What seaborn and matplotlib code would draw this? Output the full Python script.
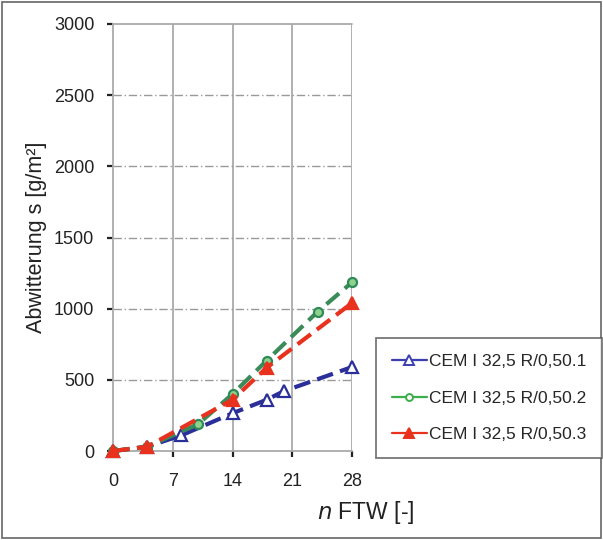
import matplotlib
matplotlib.use('Agg')
import matplotlib.pyplot as plt
from matplotlib.lines import Line2D
from matplotlib.patches import Rectangle
import seaborn as sns
import pandas as pd

# values
x_1 = [0, 4, 8, 14, 18, 20, 28]
s_1 = [0, 30, 110, 265, 360, 420, 590]
x_2 = [0, 4, 10, 14, 18, 24, 28]
s_2 = [0, 30, 190, 400, 635, 980, 1185]
x_3 = [0, 4, 14, 18, 28]
s_3 = [0, 30, 360, 585, 1040]
labels = ['CEM I 32,5 R/0,50.1', 'CEM I 32,5 R/0,50.2', 'CEM I 32,5 R/0,50.3']
x_ticks = [0, 7, 14, 21, 28]
y_ticks = [0, 500, 1000, 1500, 2000, 2500, 3000]

sns.set_style('white')
plt.rcParams['font.family'] = ['Liberation Sans', 'DejaVu Sans']

fig = plt.figure(figsize=(6.03, 5.4), dpi=100)
ax = fig.add_axes([113 / 603, 1 - 451 / 540, 239 / 603, 427 / 540])

colors = ['#2b2f9a', '#2e8b57', '#e8321e']
line_colors = ['#2b2f9a', '#3a8a5a', '#e8321e']
markers = ['^', 'o', '^']
sizes = [8, 6.5, 8]
faces = ['white', '#8fd18f', '#e8321e']
legend_colors = ['#3b3fb0', '#3cae4a', '#e8321e']

series = [(x_1, s_1), (x_2, s_2), (x_3, s_3)]
for i, (xs, ys) in enumerate(series):
    df = pd.DataFrame({'n': xs, 's': ys})
    sns.lineplot(data=df, x='n', y='s', ax=ax, color=line_colors[i],
                 linewidth=3.0, linestyle=(0, (4, 1.8)),
                 marker=markers[i], markersize=sizes[i], markerfacecolor=faces[i],
                 markeredgecolor=colors[i], markeredgewidth=1.6,
                 zorder=3 + i, clip_on=False)

ax.set_xlim(0, 28)
ax.set_ylim(0, 3000)
ax.set_xticks(x_ticks)
ax.set_yticks(y_ticks)
ax.tick_params(axis='both', labelsize=13, colors='#222222', length=4.5,
               direction='out', width=1.6, bottom=True, left=True)
ax.tick_params(axis='y', pad=9)
ax.tick_params(axis='x', pad=11)
for v in x_ticks[1:]:
    ax.axvline(v, color='#aaaaaa', linewidth=1.3, zorder=1)
for v in y_ticks[1:-1]:
    ax.axhline(v, color='#999999', linewidth=1.0, linestyle=(0, (6, 2, 1, 2)), zorder=1)
ax.axhline(3000, color='#aaaaaa', linewidth=1.3, zorder=1, clip_on=False)

for side in ['top', 'right']:
    ax.spines[side].set_visible(False)
for side in ['left', 'bottom']:
    ax.spines[side].set_color('#aaaaaa')
    ax.spines[side].set_linewidth(1.3)

ax.set_xlabel('')
ax.set_ylabel('Abwitterung s [g/m²]', fontsize=15.5, color='#222222', labelpad=5)
fig.text(366 / 603, 1 - 512 / 540, r'$\it{n}$ FTW [-]', fontsize=16.5,
         color='#222222', ha='center', va='center')

handles = [Line2D([0], [0], color=legend_colors[i], linewidth=1.6,
                  marker=markers[i], markersize=7 if i != 1 else 5,
                  markerfacecolor=('white' if i < 2 else legend_colors[i]),
                  markeredgecolor=legend_colors[i], markeredgewidth=1.4)
           for i in range(3)]
leg = fig.legend(handles, labels, loc='center', bbox_to_anchor=(489 / 603, 1 - 398 / 540),
                 fontsize=12.5, frameon=True, fancybox=False, edgecolor='#555555',
                 handlelength=2.0, handletextpad=0.1, labelspacing=1.25,
                 borderpad=0.9, borderaxespad=0)
leg.get_frame().set_linewidth(1.3)

fig.patches.append(Rectangle((0.003, 0.003), 0.994, 0.994, transform=fig.transFigure,
                             fill=False, edgecolor='#666666', linewidth=1.2))

fig.savefig('out.png', dpi=100)
